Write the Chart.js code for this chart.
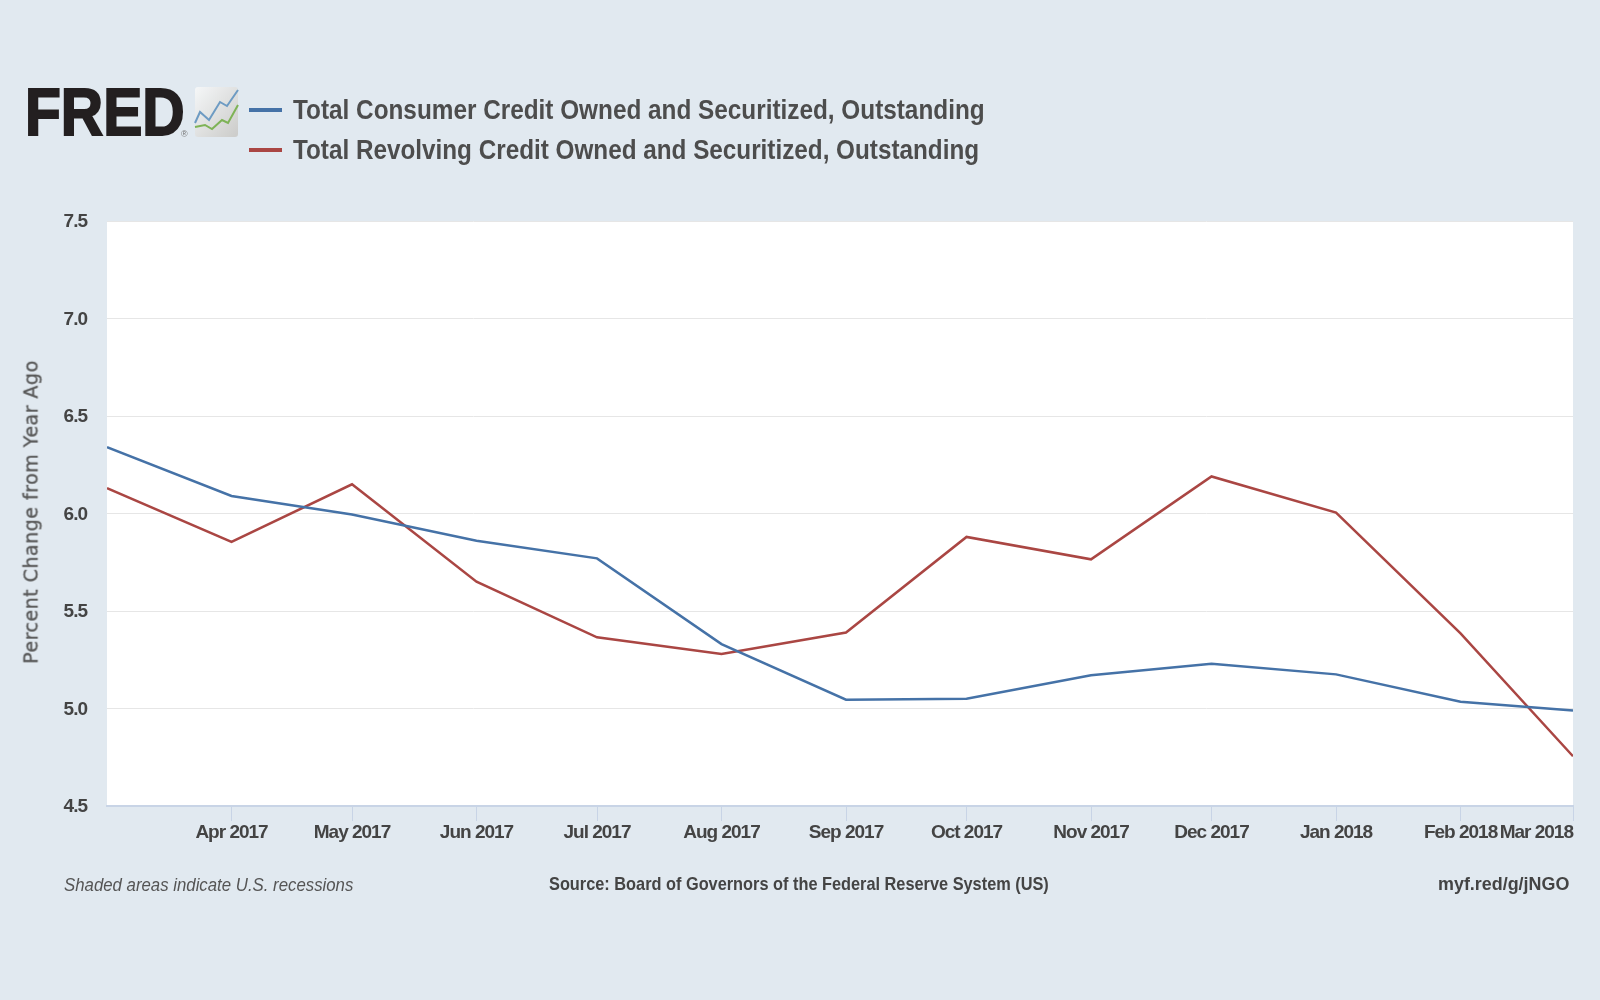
<!DOCTYPE html>
<html>
<head>
<meta charset="utf-8">
<title>FRED consumer credit</title>
<script src="https://cdn.jsdelivr.net/npm/chart.js@4"></script>
<style>
  html, body { margin: 0; padding: 0; background: #e1e9f0; }
  #wrap { position: relative; width: 1600px; height: 1000px; overflow: hidden; }
  #wrap canvas { position: absolute; left: 0; top: 0; }
  .txt { position: absolute; white-space: nowrap; transform-origin: 0 50%; font-family: "Liberation Sans", sans-serif; color: #444; line-height: 1; }
  .legend-text { font-size: 27px; font-weight: bold; color: #4d4d4d; }
  .foot { font-size: 19px; }
  .swatch { position: absolute; left: 249px; width: 33px; height: 4px; }
  #logo { font-size: 66px; font-weight: bold; color: #231f20; -webkit-text-stroke: 2px #231f20; }
  #reg { font-size: 9px; color: #777; }
  #icon { position: absolute; left: 194px; top: 86px; }
  #ytitle { left: 31px; top: 512px; transform-origin: 50% 50%; transform: translate(-50%,-50%) rotate(-90deg);
            font-family: "DejaVu Sans", sans-serif; font-size: 19px; letter-spacing: 0.5px; color: #555; -webkit-text-stroke: 0.3px #555; }
</style>
</head>
<body>
<div id="wrap">
  <canvas id="chart" width="1600" height="1000"></canvas>
  <div class="txt" id="logo" data-w="160" style="left:25px;top:79px">FRED</div>
  <div class="txt" id="reg" style="left:181px;top:130px">®</div>
  <svg id="icon" width="46" height="52" viewBox="0 0 46 52">
    <defs><linearGradient id="g" x1="0" y1="0" x2="1" y2="1"><stop offset="0" stop-color="#f5f7f8"/><stop offset="1" stop-color="#cbcbc9"/></linearGradient></defs>
    <rect x="1" y="1" width="43" height="50" rx="3" fill="url(#g)"/>
    <polyline points="1,37 6,26 15,34 26,16 33,20 44,4" fill="none" stroke="#6d9bc3" stroke-width="2"/>
    <polyline points="1,41 11,39 18,43 28,34 34,37 44,19" fill="none" stroke="#7eb356" stroke-width="2"/>
  </svg>
  <div id="legend"></div>
  <div class="txt" id="ytitle"></div>
  <div class="txt foot" data-w="289" style="left:64px;top:875px;font-style:italic;color:#555">Shaded areas indicate U.S. recessions</div>
  <div class="txt foot" data-w="500" style="left:549px;top:874px;font-weight:bold">Source: Board of Governors of the Federal Reserve System (US)</div>
  <div class="txt foot" data-w="131" style="left:1438px;top:874px;font-weight:bold">myf.red/g/jNGO</div>
</div>

<script>
// -------------------- DATA -------------------
const months = ['2017-03-01','2017-04-01','2017-05-01','2017-06-01','2017-07-01','2017-08-01','2017-09-01',
                '2017-10-01','2017-11-01','2017-12-01','2018-01-01','2018-02-01','2018-03-01'];
const tickLabels = ['','Apr 2017','May 2017','Jun 2017','Jul 2017','Aug 2017','Sep 2017',
                    'Oct 2017','Nov 2017','Dec 2017','Jan 2018','Feb 2018','Mar 2018'];
const consumerName = 'Total Consumer Credit Owned and Securitized, Outstanding';
const revolvingName = 'Total Revolving Credit Owned and Securitized, Outstanding';
const consumerValues = [6.34,6.09,5.995,5.86,5.77,5.33,5.045,5.05,5.17,5.23,5.175,5.035,4.99];
const revolvingValues = [6.13,5.855,6.15,5.65,5.365,5.28,5.39,5.88,5.765,6.19,6.005,5.385,4.755];
const yTitle = 'Percent Change from Year Ago';

// -------------------- HELPERS -------------------
const monthTimes = months.map(m => Date.parse(m));
const toPoints = values => values.map((v, i) => ({ x: monthTimes[i], y: v }));
const tickFont = { family: 'Liberation Sans', size: 19, weight: 'bold' };

// white plot background, and tight tick text like the reference
const plotBackground = {
  id: 'plotBackground',
  beforeDraw(chart) {
    const a = chart.chartArea;
    chart.ctx.save();
    chart.ctx.fillStyle = '#ffffff';
    chart.ctx.fillRect(a.left, a.top, a.right - a.left, a.bottom - a.top);
    chart.ctx.restore();
    chart.ctx.letterSpacing = '-1px';
  }
};

// legend in html, built from the series
function AddLegend(name, color, swatchTop, textTop, width) {
  let legend = document.getElementById('legend');
  let swatch = document.createElement('div');
  swatch.className = 'swatch';
  swatch.style.top = swatchTop + 'px';
  swatch.style.background = color;
  let text = document.createElement('div');
  text.className = 'txt legend-text';
  text.style.left = '293px';
  text.style.top = textTop + 'px';
  text.dataset.w = width;
  text.innerText = name;
  legend.appendChild(swatch);
  legend.appendChild(text);
}

AddLegend(consumerName, '#4572a7', 108, 97, 692);
AddLegend(revolvingName, '#aa4643', 148, 137, 686);
document.getElementById('ytitle').innerText = yTitle;

// squeeze each text to the width measured on the reference
document.querySelectorAll('[data-w]').forEach(el => {
  el.style.transform = `scaleX(${el.dataset.w / el.offsetWidth})`;
});

// -------------------- CHART -------------------
new Chart(document.getElementById('chart'), {
  type: 'line',
  data: {
    datasets: [
      { label: consumerName, data: toPoints(consumerValues), borderColor: '#4572a7', borderWidth: 2.5, pointRadius: 0, tension: 0 },
      { label: revolvingName, data: toPoints(revolvingValues), borderColor: '#aa4643', borderWidth: 2.5, pointRadius: 0, tension: 0 }
    ]
  },
  options: {
    responsive: false,
    animation: false,
    devicePixelRatio: 1,
    layout: { padding: { left: 23, right: 27, top: 221, bottom: 134 } },
    plugins: { legend: { display: false }, tooltip: { enabled: false } },
    scales: {
      x: {
        type: 'linear',
        min: monthTimes[0],
        max: monthTimes[monthTimes.length - 1],
        afterBuildTicks: scale => { scale.ticks = monthTimes.map(t => ({ value: t })); },
        afterFit: scale => { scale.height = 60; },
        border: { color: '#c8d4e6', width: 2 },
        grid: {
          drawOnChartArea: false,
          tickLength: 15,
          tickWidth: 1,
          tickColor: ctx => ctx.index === 0 ? 'rgba(0,0,0,0)' : '#c8d4e6'
        },
        ticks: {
          autoSkip: false,
          maxRotation: 0,
          align: 'inner',
          padding: 0,
          color: '#444',
          font: tickFont,
          callback: (value, i) => tickLabels[i]
        }
      },
      y: {
        min: 4.5,
        max: 7.5,
        afterFit: scale => { scale.width = 84; },
        border: { display: false },
        grid: { color: '#e6e6e6', drawTicks: false },
        ticks: {
          stepSize: 0.5,
          padding: 20,
          labelOffset: 1,
          color: '#444',
          font: tickFont,
          callback: value => value.toFixed(1)
        }
      }
    }
  },
  plugins: [plotBackground]
});
</script>
</body>
</html>
